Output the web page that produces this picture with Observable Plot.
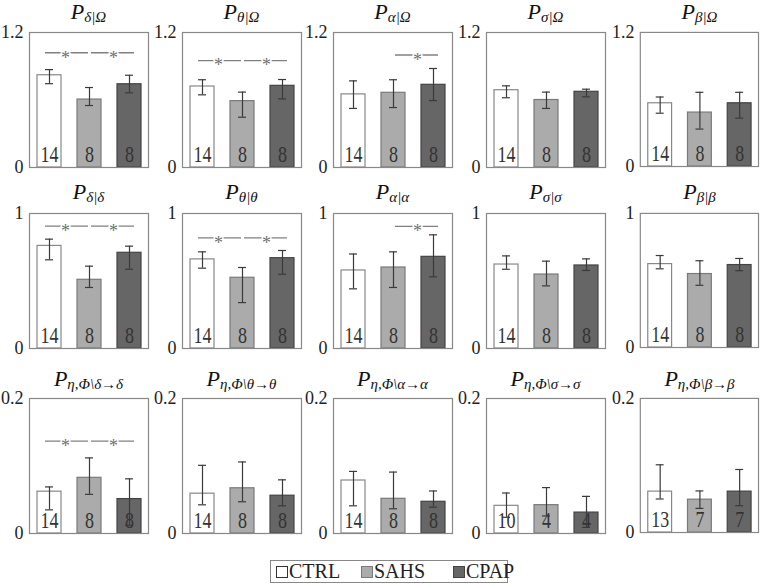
<!DOCTYPE html>
<html><head><meta charset="utf-8">
<script src="https://cdn.jsdelivr.net/npm/d3@7"></script>
<script src="https://cdn.jsdelivr.net/npm/@observablehq/plot@0.6"></script>
<style>
body{margin:0;background:#fff;}
#root{position:relative;width:761px;height:585px;overflow:hidden;font-family:"Liberation Serif","Times New Roman",Tinos,"Noto Serif","DejaVu Serif",FreeSerif,serif;color:#222;}
.title{position:absolute;font-style:italic;font-size:22px;line-height:28px;white-space:nowrap;transform:translateX(-50%);color:#111;}
.title sub{font-size:15px;vertical-align:-3px;line-height:0;}
.panel{position:absolute;}
.legend{position:absolute;left:270px;top:560px;width:238px;height:23px;border:1px solid #888;box-sizing:border-box;}
.item{position:absolute;top:0;font-size:20px;line-height:21px;white-space:nowrap;}
.sw{display:inline-block;width:10px;height:10px;border:1px solid #333;margin-right:1px;vertical-align:0px;}
</style></head><body><div id="root"></div>
<script>
// ---- data ----
const groups = ["CTRL", "SAHS", "CPAP"];
const subscripts = ["δ|Ω","θ|Ω","α|Ω","σ|Ω","β|Ω",
                    "δ|δ","θ|θ","α|α","σ|σ","β|β",
                    "η,Φ\\δ→δ","η,Φ\\θ→θ","η,Φ\\α→α","η,Φ\\σ→σ","η,Φ\\β→β"];
const yMaxByRow = [1.2, 1, 0.2];
const yTickLabels = [["0","1.2"],["0","1"],["0","0.2"]];

const meanCTRL = [0.82, 0.72, 0.65, 0.687, 0.566,  0.76, 0.66, 0.578, 0.622, 0.622,  0.062, 0.059, 0.0785, 0.041, 0.061];
const lowCTRL  = [0.745,0.646,0.525,0.62, 0.477,   0.657,0.595,0.442, 0.587, 0.587,  0.035, 0.0425,0.041, 0.024, 0.050];
const highCTRL = [0.87, 0.78, 0.77, 0.726, 0.622,  0.81, 0.716,0.70,  0.686, 0.686,  0.069, 0.101, 0.092, 0.060, 0.101];

const meanSAHS = [0.604,0.59, 0.664,0.60, 0.483,   0.509,0.524,0.60,  0.548, 0.548,  0.0825,0.067, 0.0514,0.042, 0.049];
const lowSAHS  = [0.551,0.447,0.533,0.525,0.335,   0.452,0.34, 0.452, 0.464, 0.464,  0.058, 0.047, 0.0366,0.026, 0.036];
const highSAHS = [0.711,0.67, 0.78, 0.67, 0.664,   0.61, 0.60, 0.716, 0.647, 0.647,  0.112, 0.106, 0.091, 0.068, 0.062];

const meanCPAP = [0.74, 0.726,0.735,0.673,0.566,   0.709,0.669,0.679, 0.615, 0.615,  0.051, 0.056, 0.047, 0.031, 0.061];
const lowCPAP  = [0.664,0.61, 0.595,0.628,0.433,   0.587,0.55, 0.531, 0.578, 0.573,  0.012, 0.041, 0.039, 0.009, 0.040];
const highCPAP = [0.82, 0.782,0.88, 0.696,0.664,   0.758,0.726,0.842, 0.664, 0.664,  0.081, 0.0795,0.063, 0.055, 0.094];

const nCTRL = [14,14,14,14,14, 14,14,14,14,14, 14,14,14,10,13];
const nSAHS = [8,8,8,8,8, 8,8,8,8,8, 8,8,8,4,7];
const nCPAP = [8,8,8,8,8, 8,8,8,8,8, 8,8,8,4,7];

// significance brackets: [panel, from, to, y]
const brackets = [
  [0,"CTRL","SAHS",1.02],[0,"SAHS","CPAP",1.02],
  [1,"CTRL","SAHS",0.95],[1,"SAHS","CPAP",0.95],
  [2,"SAHS","CPAP",1.0],
  [5,"CTRL","SAHS",0.906],[5,"SAHS","CPAP",0.906],
  [6,"CTRL","SAHS",0.82],[6,"SAHS","CPAP",0.82],
  [7,"SAHS","CPAP",0.904],
  [10,"CTRL","SAHS",0.137],[10,"SAHS","CPAP",0.137]
];

// ---- styles ----
const FONT = "'Liberation Serif', 'Times New Roman', Tinos, 'Noto Serif', 'DejaVu Serif', FreeSerif, serif";
const fills   = {CTRL:"#ffffff", SAHS:"#ababab", CPAP:"#666666"};
const borders = {CTRL:"#888888", SAHS:"#7a7a7a", CPAP:"#444444"};
const frameLeft = [29, 182, 333, 486, 640];
const frameTop = [32, 213, 398];
const titleBaseline = [20, 200, 387];
const FW = 119, FH = 135, ML = 29, MR = 3, MT = 12, MB = 12;

const means = [meanCTRL, meanSAHS, meanCPAP];
const lows = [lowCTRL, lowSAHS, lowCPAP];
const highs = [highCTRL, highSAHS, highCPAP];
const ns = [nCTRL, nSAHS, nCPAP];

const root = document.getElementById("root");

for (let i = 0; i < 15; i++) {
  const row = Math.floor(i / 5), col = i % 5;
  const ymax = yMaxByRow[row];
  const data = groups.map((g, k) => ({group: g, mean: means[k][i], lo: lows[k][i], hi: highs[k][i], n: String(ns[k][i])}));
  const br = brackets.filter(b => b[0] === i).map(b => ({from: b[1], to: b[2], y: b[3]}));
  const leftBr = br.filter(b => b.from === "CTRL");
  const rightBr = br.filter(b => b.from === "SAHS");
  const labels = yTickLabels[row];

  const svg = Plot.plot({
    width: ML + FW + MR, height: MT + FH + MB,
    marginLeft: ML, marginRight: MR, marginTop: MT, marginBottom: MB,
    style: {fontFamily: FONT, fontSize: "18px", background: "transparent", overflow: "visible", color: "#222"},
    x: {domain: groups, paddingInner: 0.4, paddingOuter: 0.175, axis: null},
    y: {domain: [0, ymax], axis: null},
    color: {type: "identity"},
    marks: [
      Plot.barY(data, {x: "group", y: "mean", fill: d => fills[d.group], stroke: d => borders[d.group], strokeWidth: 1.2}),
      Plot.text(data, {x: "group", text: "n", frameAnchor: "bottom", lineAnchor: "bottom", dy: -6, fontSize: 24, fill: "#333", fontFamily: FONT}),
      Plot.ruleX(data, {x: "group", y1: "lo", y2: "hi", stroke: "#3a3a3a", strokeWidth: 1.2}),
      Plot.tickY(data, {x: "group", y: "lo", stroke: "#3a3a3a", strokeWidth: 1.2, insetLeft: 8, insetRight: 8}),
      Plot.tickY(data, {x: "group", y: "hi", stroke: "#3a3a3a", strokeWidth: 1.2, insetLeft: 8, insetRight: 8}),
      Plot.ruleY(leftBr, {x1: "from", x2: "to", y: "y", stroke: "#808080", strokeWidth: 1.3, insetLeft: 8, insetRight: 13}),
      Plot.ruleY(rightBr, {x1: "from", x2: "to", y: "y", stroke: "#808080", strokeWidth: 1.3, insetLeft: 14, insetRight: 7}),
      Plot.text(leftBr, {x: "to", y: "y", text: () => "*", dx: -24, dy: 5, fontSize: 18, fill: "#707070", stroke: "white", strokeWidth: 3, fontFamily: FONT}),
      Plot.text(rightBr, {x: "from", y: "y", text: () => "*", dx: 24, dy: 5, fontSize: 18, fill: "#707070", stroke: "white", strokeWidth: 3, fontFamily: FONT}),
      Plot.axisY({ticks: [0, ymax], tickSize: 0, tickPadding: 6, fontSize: 18, fontFamily: FONT, label: null, tickFormat: (d, j) => labels[j]}),
      Plot.frame({stroke: "#888", strokeWidth: 1.2})
    ]
  });

  // compress the sample-size numbers (narrow figures in the original)
  const tg = svg.querySelectorAll('g[aria-label="text"]')[0];
  if (tg) tg.querySelectorAll("text").forEach(t => {
    t.setAttribute("textLength", t.textContent.length * 9);
    t.setAttribute("lengthAdjust", "spacingAndGlyphs");
  });

  const div = document.createElement("div");
  div.className = "panel";
  div.style.left = (frameLeft[col] - ML) + "px";
  div.style.top = (frameTop[row] - MT) + "px";
  div.appendChild(svg);
  root.appendChild(div);

  const t = document.createElement("div");
  t.className = "title";
  t.style.left = (frameLeft[col] + FW / 2) + "px";
  t.style.top = (titleBaseline[row] - 22) + "px";
  t.innerHTML = "P<sub></sub>";
  t.querySelector("sub").textContent = subscripts[i];
  root.appendChild(t);
}

// legend
const legend = document.createElement("div");
legend.className = "legend";
const itemLeft = [5, 90, 182];
groups.forEach((g, k) => {
  const it = document.createElement("div");
  it.className = "item";
  it.style.left = itemLeft[k] + "px";
  const sw = document.createElement("span");
  sw.className = "sw";
  sw.style.background = fills[g];
  sw.style.borderColor = g === "CTRL" ? "#333" : borders[g];
  it.appendChild(sw);
  it.appendChild(document.createTextNode(g));
  legend.appendChild(it);
});
root.appendChild(legend);
</script>
</body></html>
